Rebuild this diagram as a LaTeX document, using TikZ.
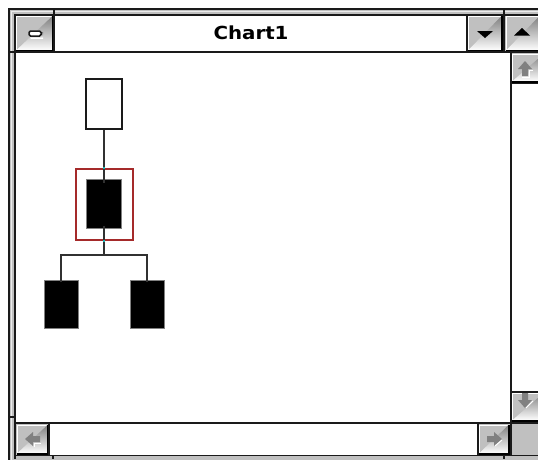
\documentclass[tikz,border=0pt]{standalone}
\usepackage{fontspec}
\newfontfamily\titlefont{DejaVu Sans Bold}
\definecolor{face}{HTML}{C0C0C0}
\definecolor{shade}{HTML}{808080}
\definecolor{edge}{HTML}{1A1A1A}
\definecolor{selred}{HTML}{A52A2A}
\definecolor{handle}{HTML}{20B0B0}
\tikzset{
  orgbox/.style={draw=edge, line width=1.2pt, minimum width=35pt, minimum height=49pt, inner sep=0pt},
  emptybox/.style={orgbox, fill=white},
  filledbox/.style={orgbox, fill=black, draw=shade, line width=0.8pt},
  selframe/.style={draw=selred, line width=2pt, minimum width=57pt, minimum height=71pt, inner sep=0pt, fill=none},
  link/.style={draw=edge!90, line width=2pt},
  border/.style={draw=edge, line width=1.6pt},
  arrowicon/.style={fill=shade},
}
\newcommand{\winbutton}[4]{%
  \fill[face] (#1,#2) rectangle (#3,#4);
  \draw[white, line width=1pt] (#1+1.5,#4-2) -- (#1+1.5,#2+1.5) -- (#3-2,#2+1.5);
  \draw[shade, line width=2pt] (#1+1,#4-1.5) -- (#3-1.5,#4-1.5) -- (#3-1.5,#2+1);
}
\begin{document}
\begin{tikzpicture}[x=1pt,y=-1pt]
\useasboundingbox (0,0) rectangle (538,459);
\fill[white] (0,0) rectangle (538,459);
% window frame band
\fill[face] (9,9) rectangle (560,480);
\draw[border] (9,480) -- (9,9) -- (560,9);
\draw[white!70!face, line width=0.8pt] (11,480) -- (11,11) -- (560,11);
% title bar
\fill[white] (15,15) rectangle (560,52);
\winbutton{15}{15}{54}{52}
\winbutton{467}{15}{503}{52}
\winbutton{505}{15}{541}{52}
% client area
\fill[white] (15,52) rectangle (511,423);
% scrollbars
\fill[white] (511,52) rectangle (560,423);
\fill[white] (15,423) rectangle (511,455);
\winbutton{511}{53}{545}{83}
\winbutton{511}{392}{545}{422}
\winbutton{16}{424}{49}{455}
\winbutton{478}{424}{510}{455}
\fill[face] (511,424) rectangle (560,455);
% structural lines
\draw[border] (15,459) -- (15,15) -- (560,15);
\draw[border] (9,52) -- (560,52);
\draw[border] (54,9) -- (54,52);
\draw[border] (467,15) -- (467,52);
\draw[border] (504,9) -- (504,52);
\draw[border] (511,52) -- (511,455);
\draw[border] (15,423) -- (560,423);
\draw[border] (15,455.5) -- (560,455.5);
\draw[border] (49,423) -- (49,455);
\draw[border] (478,423) -- (478,455);
\draw[border] (511,83.5) -- (560,83.5);
\draw[border] (511,392) -- (560,392);
\draw[border] (9,417) -- (15,417);
\draw[border] (53,455) -- (53,459);
\draw[border] (504,455) -- (504,459);
% title bar icons
\fill[shade] (30.5,32.5) rectangle (43,38);
\draw[edge, fill=white, line width=1.5pt, rounded corners=1.5pt] (29,31) rectangle (41,36);
\fill[black] (477,31) -- (493,31) -- (485,38) -- cycle;
\fill[black] (514,35.5) -- (530,35.5) -- (522,28) -- cycle;
\node[font=\titlefont\fontsize{18}{20}\selectfont, xscale=1.1, text=black] (title) at (251,33) {Chart1};
% scroll arrows (disabled look)
\fill[arrowicon] (518,69) -- (525,61) -- (532,69) -- (528,69) -- (528,76) -- (522,76) -- (522,69) -- cycle;
\draw[white, line width=1pt] (522,77) -- (529,77) -- (529,70) -- (532.5,70);
\fill[arrowicon] (518,400) -- (525,408) -- (532,400) -- (528,400) -- (528,393) -- (522,393) -- (522,400) -- cycle;
\draw[white, line width=1pt] (526,408) -- (533,401);
\fill[arrowicon] (33,432) -- (25,439) -- (33,446) -- (33,442) -- (40,442) -- (40,436) -- (33,436) -- cycle;
\draw[white, line width=1pt] (34,447) -- (34,443) -- (41,443);
\fill[arrowicon] (494,432) -- (502,439) -- (494,446) -- (494,442) -- (487,442) -- (487,436) -- (494,436) -- cycle;
\draw[white, line width=1pt] (495,446) -- (502,440);
% org chart
\node[emptybox, minimum width=36pt, minimum height=50pt] (top) at (104,104) {};
\node[filledbox] (mid) at (104,203.5) {};
\node[selframe] (sel) at (104,204.5) {};
\node[filledbox, minimum width=34pt, minimum height=48pt] (left) at (61,304) {};
\node[filledbox, minimum width=34pt, minimum height=48pt] (right) at (147,304) {};
\coordinate (bar) at (104,255);
\draw[link] (top.south) -- ([yshift=-4pt]mid.north);
\draw[link] ([yshift=2pt]mid.south) -- (bar);
\draw[link] (bar) -| ([yshift=-2pt]left.north);
\draw[link] (bar) -| ([yshift=-2pt]right.north);
\fill[handle] ([xshift=-1pt,yshift=-1pt]sel.north) rectangle ([xshift=1pt,yshift=1pt]sel.north);
\fill[handle] ([xshift=-1pt,yshift=-1pt]sel.south) rectangle ([xshift=1pt,yshift=1pt]sel.south);
\end{tikzpicture}
\end{document}
